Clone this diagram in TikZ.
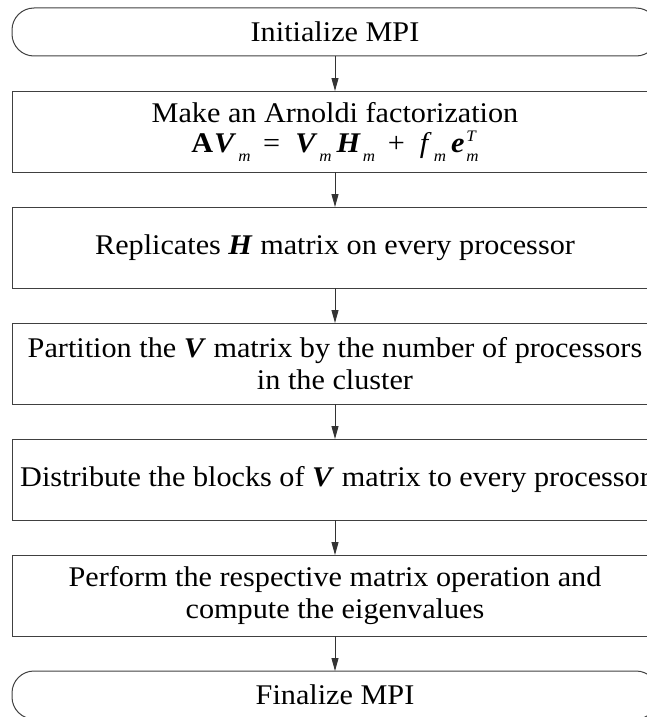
\documentclass[tikz,border=0pt]{standalone}
\usepackage{amsmath}
\usepackage{fontspec}
\setmainfont[FakeStretch=1.06]{Liberation Serif}
\usetikzlibrary{positioning, arrows.meta}

% low subscripts, as in the equation of the reference
\newcommand{\lowsub}[1]{\kern2pt\raisebox{-9pt}{\fontsize{16}{16}\selectfont\textit{#1}}\kern5pt}
\newcommand{\lowsubsup}[2]{\kern2pt\rlap{\raisebox{11pt}{\fontsize{16}{16}\selectfont\textit{#2}}}\raisebox{-9pt}{\fontsize{16}{16}\selectfont\textit{#1}}}

\begin{document}
\begin{tikzpicture}[
    x=1pt, y=1pt,
    node distance=35pt,
    terminal/.style={rectangle, rounded corners=22pt, draw=black!75, line width=1pt,
                     minimum width=646pt, minimum height=48pt, outer sep=0pt,
                     font=\fontsize{28.5}{32}\selectfont},
    block/.style={rectangle, draw=black!75, line width=1pt, align=center,
                  minimum width=646pt, minimum height=81pt, outer sep=0pt,
                  font=\fontsize{28.5}{32}\selectfont},
    arrow/.style={->, >={Triangle[width=7pt,length=13pt]}, draw=black!80, line width=0.9pt}
]
    \useasboundingbox (0,0) rectangle (647,-717);
    \node [terminal] (init) at (335,-32) {Initialize MPI};
    \node [block, below=of init] (arnoldi) {Make an Arnoldi factorization\\[-2pt]
        \textbf{A\kern1pt\textit{V}}\lowsub{m}\ = \ \textbf{\textit{V}}\lowsub{m}\textbf{\textit{H}}\lowsub{m}\ + \ \textit{f}\lowsub{m}\textbf{\textit{e}}\lowsubsup{m}{T}};
    \node [block, below=of arnoldi] (replicate) {Replicates \textbf{\textit{H}} matrix on every processor};
    \node [block, below=of replicate] (partition) {Partition the \textbf{\textit{V}} matrix by the number of processors\\
        in the cluster};
    \node [block, below=of partition] (distribute) {Distribute the blocks of \textbf{\textit{V}} matrix to every processor};
    \node [block, below=of distribute] (compute) {Perform the respective matrix operation and\\
        compute the eigenvalues};
    \node [terminal, below=of compute] (finalize) {Finalize MPI};
    \draw [arrow] (init) -- (arnoldi);
    \draw [arrow] (arnoldi) -- (replicate);
    \draw [arrow] (replicate) -- (partition);
    \draw [arrow] (partition) -- (distribute);
    \draw [arrow] (distribute) -- (compute);
    \draw [arrow] (compute) -- (finalize);
\end{tikzpicture}
\end{document}
